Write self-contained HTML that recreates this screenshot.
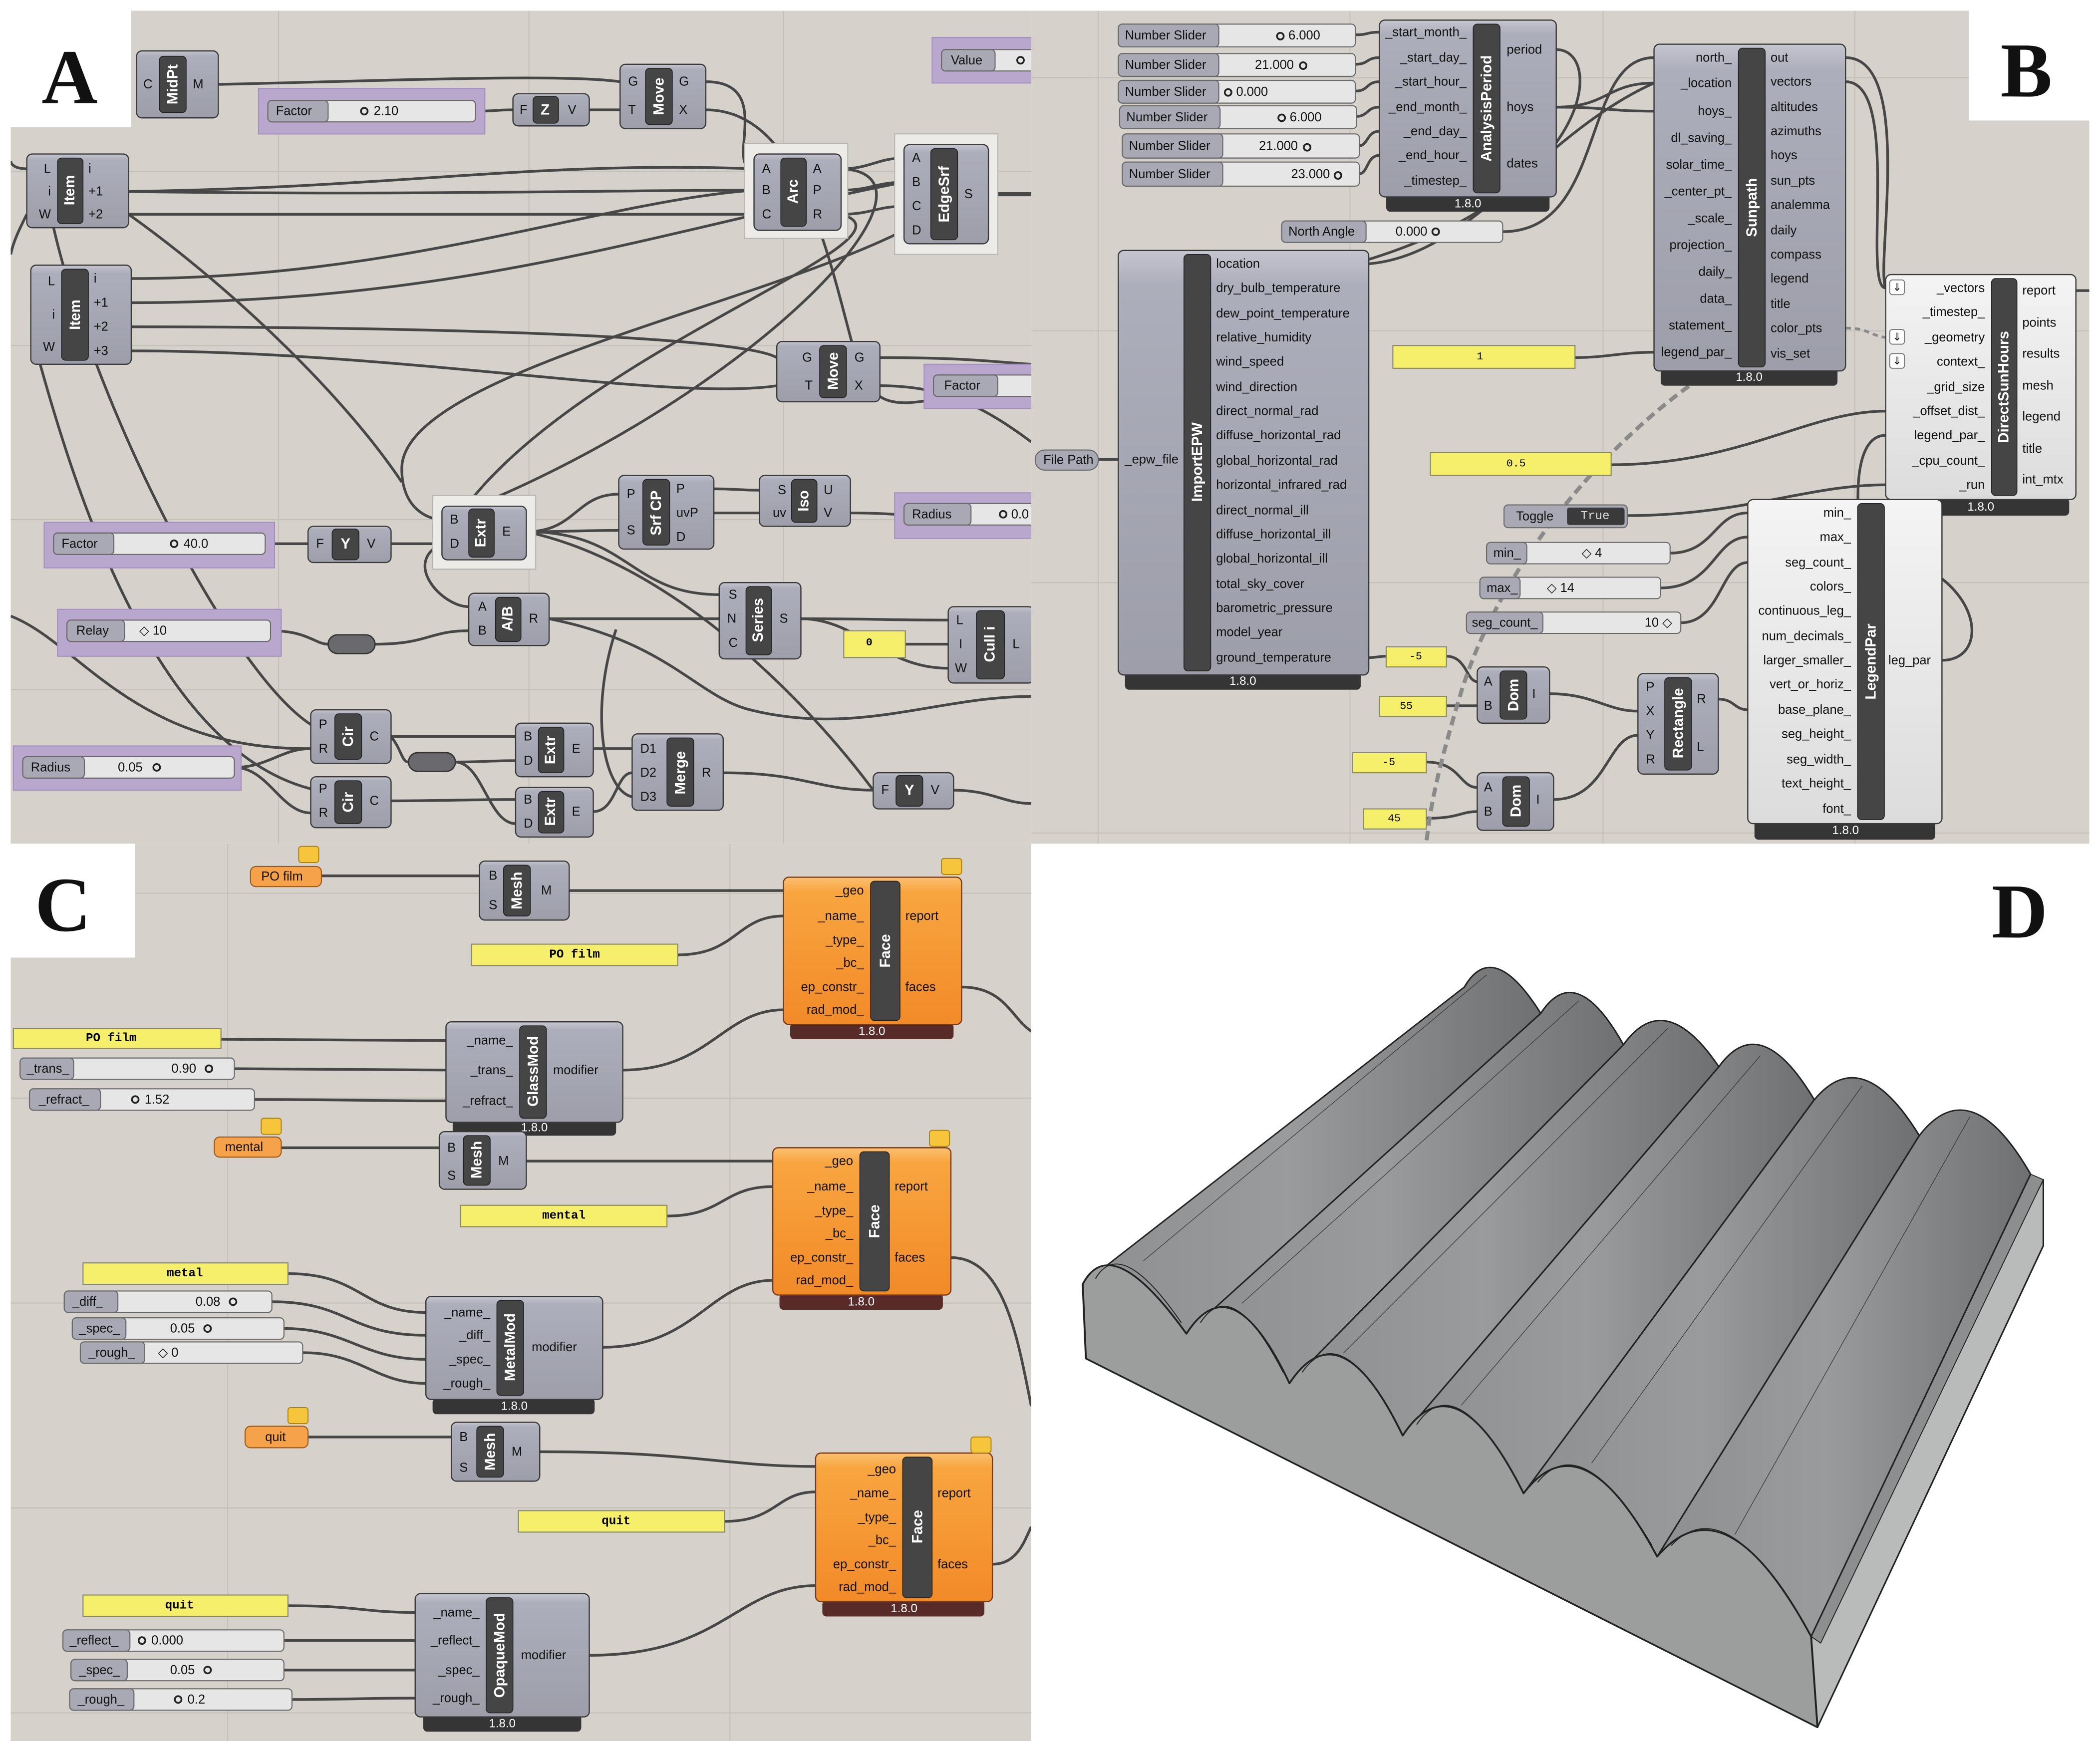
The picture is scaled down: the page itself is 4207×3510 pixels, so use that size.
<!DOCTYPE html>
<html><head><meta charset="utf-8"><style>
html,body{margin:0;padding:0;background:#fff;}
svg{display:block}
text{font-family:"Liberation Sans",sans-serif;}
.bg{fill:#d6d2cb}
.gl{stroke:#c4c0b9;stroke-width:0.8}
.w{fill:none;stroke:#474747;stroke-width:2}
.c{fill:url(#gc);stroke:#3a3a3a;stroke-width:0.9}
.cl{fill:url(#gw);stroke:#3a3a3a;stroke-width:0.9}
.co{fill:url(#go);stroke:#7a3a1a;stroke-width:0.9}
.s{fill:#454545;stroke:#222;stroke-width:0.6}
.n{fill:#fff;font-size:11px;font-weight:bold;text-anchor:middle;dominant-baseline:central}
.t{font-size:9.5px;fill:#111;dominant-baseline:central}
.e{text-anchor:end}
.f{fill:#353535}
.fo{fill:#582b28}
.ft{fill:#fff;font-size:9px;text-anchor:middle;dominant-baseline:central}
.pg{fill:#b9a7cd;stroke:#a58fc2;stroke-width:0.8}
.sl{fill:#e6e6e6;stroke:#6a6a6a;stroke-width:0.8}
.sb{fill:#a9a9b5;stroke:#6a6a6a;stroke-width:0.8}
.y{fill:#f5ef6b;stroke:#8a8a6a;stroke-width:0.8}
.or{fill:#f6a24a;stroke:#9a5a1a;stroke-width:0.8}
.tag{fill:#f6c53c;stroke:#a88010;stroke-width:0.7}
.m{font-family:"Liberation Mono",monospace;font-size:9px;font-weight:bold;text-anchor:middle;dominant-baseline:central}
.L{font-family:"Liberation Serif",serif;font-weight:bold;font-size:58px;fill:#111;text-anchor:middle}
.wg{fill:#ecebe7;stroke:#b8b6b0;stroke-width:0.8}
</style></head><body>
<svg width="4207" height="3510" viewBox="0 0 1568 1308.2" xmlns="http://www.w3.org/2000/svg">
<defs>
<linearGradient id="gc" x1="0" y1="0" x2="0" y2="1"><stop offset="0" stop-color="#c4c5cf"/><stop offset="0.08" stop-color="#adaebb"/><stop offset="1" stop-color="#9d9eaa"/></linearGradient>
<linearGradient id="gw" x1="0" y1="0" x2="0" y2="1"><stop offset="0" stop-color="#f4f4f4"/><stop offset="1" stop-color="#dcdcdc"/></linearGradient>
<linearGradient id="go" x1="0" y1="0" x2="0" y2="1"><stop offset="0" stop-color="#fcc070"/><stop offset="0.1" stop-color="#f8a540"/><stop offset="1" stop-color="#f28a28"/></linearGradient>
<linearGradient id="hg" x1="0" y1="0" x2="1" y2="0"><stop offset="0" stop-color="#8e8f91"/><stop offset="0.45" stop-color="#9a9b9d"/><stop offset="1" stop-color="#6f7072"/></linearGradient>
<clipPath id="cA"><rect x="8" y="8" width="762" height="622"/></clipPath>
<clipPath id="cB"><rect x="770" y="8" width="790" height="622"/></clipPath>
<clipPath id="cC"><rect x="8" y="630" width="762" height="670"/></clipPath>
</defs>
<rect width="1568" height="1309" fill="#fff"/>

<!-- ================= PANEL A ================= -->
<g clip-path="url(#cA)">
<rect class="bg" x="8" y="8" width="762" height="622"/>
<g class="gl"><line x1="208" y1="8" x2="208" y2="630"/><line x1="395" y1="8" x2="395" y2="630"/><line x1="585" y1="8" x2="585" y2="630"/><line x1="8" y1="128" x2="770" y2="128"/><line x1="8" y1="258" x2="770" y2="258"/><line x1="8" y1="388" x2="770" y2="388"/><line x1="8" y1="515" x2="770" y2="515"/></g>
<!-- wires -->
<g class="w">
<path d="M163,63 C300,60 420,55 463,61"/>
<path d="M355,83 C370,83 370,82 383,82"/>
<path d="M440,82 C450,82 452,82 463,82"/>
<path d="M527,61 C580,61 540,126 563,126"/>
<path d="M527,82 C600,82 620,200 640,270 C660,330 700,280 770,300"/>
<path d="M96,143 C300,140 400,120 563,126"/>
<path d="M96,143 C300,146 450,142 563,142"/>
<path d="M96,160 C300,160 450,160 563,160"/>
<path d="M98,208 C300,208 450,150 563,142"/>
<path d="M98,226 C350,226 500,170 675,136"/>
<path d="M98,244 C300,244 550,250 580,267"/>
<path d="M98,262 C300,262 500,300 580,288"/>
<path d="M628,126 C650,126 655,118 675,118"/>
<path d="M628,142 C650,142 655,136 675,136"/>
<path d="M628,160 C650,160 655,154 675,154"/>
<path d="M738,145 C750,145 760,145 770,145" style="stroke-width:3"/>
<path d="M628,126 C720,130 560,300 330,388"/>
<path d="M628,160 C700,180 400,270 330,406"/>
<path d="M675,172 C560,230 300,280 300,350 C300,380 320,388 330,388"/>
<path d="M96,160 C180,220 260,300 300,360"/>
<path d="M198,406 C215,406 215,406 230,406"/>
<path d="M292,406 C310,406 312,406 330,406"/>
<path d="M393,397 C430,397 430,369 462,369"/>
<path d="M393,397 C430,397 430,396 462,396"/>
<path d="M393,397 C470,397 470,444 537,444"/>
<path d="M393,397 C500,420 600,520 652,590"/>
<path d="M533,365 C550,365 550,366 567,366"/>
<path d="M533,383 C550,383 550,383 567,383"/>
<path d="M635,383 C690,383 700,390 770,392"/>
<path d="M657,267 C720,267 740,270 770,272"/>
<path d="M657,288 C700,288 730,300 770,330"/>
<path d="M202,471 C230,471 235,481 245,481"/>
<path d="M280,481 C320,481 320,471 350,471"/>
<path d="M330,406 C300,420 330,453 350,453"/>
<path d="M410,462 C470,462 480,462 537,462"/>
<path d="M598,462 C640,462 660,499 708,499"/>
<path d="M676,481 C690,481 695,481 708,481"/>
<path d="M598,462 C650,462 660,463 708,463"/>
<path d="M20,126 C10,126 8,122 8,120"/>
<path d="M20,160 C15,170 10,180 8,190"/>
<path d="M40,170 C70,300 170,500 232,541"/>
<path d="M30,272 C60,380 120,560 232,589"/>
<path d="M8,460 C60,480 100,560 232,559"/>
<path d="M175,573 C200,573 210,559 232,559"/>
<path d="M175,573 C200,573 210,607 232,607"/>
<path d="M292,550 C330,550 350,550 385,550"/>
<path d="M292,598 C330,598 350,597 385,597"/>
<path d="M292,550 C300,560 300,569 305,569"/>
<path d="M340,569 C360,569 365,568 385,568"/>
<path d="M340,569 C360,569 365,615 385,615"/>
<path d="M443,559 C460,559 460,559 472,559"/>
<path d="M443,606 C460,606 460,577 472,577"/>
<path d="M460,470 C440,530 450,590 472,595"/>
<path d="M540,577 C600,577 610,590 652,590"/>
<path d="M712,590 C740,590 750,600 770,600"/>
<path d="M410,462 C500,480 520,520 560,530 C640,550 700,520 770,520"/>
</g>
<!-- MidPt -->
<rect class="c" x="102" y="38" width="61" height="50" rx="4"/><rect class="s" x="119" y="42" width="20" height="42" rx="3"/>
<text class="n" transform="translate(129,63) rotate(-90)">MidPt</text>
<text class="t" x="107" y="63">C</text><text class="t" x="144" y="63">M</text>
<!-- Factor slider -->
<rect class="pg" x="193" y="66" width="169" height="34"/>
<rect class="sl" x="200" y="75" width="155" height="16" rx="3"/><rect class="sb" x="200" y="75" width="45" height="16" rx="3"/>
<text class="t" x="206" y="83">Factor</text><circle cx="272" cy="83" r="2.5" fill="none" stroke="#222" stroke-width="1.3"/><text class="t" x="279" y="83">2.10</text>
<!-- Z -->
<rect class="c" x="383" y="70" width="57" height="24" rx="4"/><rect class="s" x="398" y="72" width="19" height="20" rx="3"/>
<text class="n" x="407" y="82">Z</text><text class="t" x="388" y="82">F</text><text class="t" x="424" y="82">V</text>
<!-- Move -->
<rect class="c" x="463" y="48" width="64" height="48" rx="4"/><rect class="s" x="482" y="51" width="20" height="42" rx="3"/>
<text class="n" transform="translate(492,72) rotate(-90)">Move</text>
<text class="t" x="469" y="61">G</text><text class="t" x="469" y="82">T</text><text class="t" x="507" y="61">G</text><text class="t" x="507" y="82">X</text>
<!-- Value -->
<rect class="pg" x="696" y="28" width="80" height="34"/>
<rect class="sl" x="703" y="37" width="70" height="16" rx="3"/><rect class="sb" x="703" y="37" width="40" height="16" rx="3"/>
<text class="t" x="710" y="45">Value</text><circle cx="762" cy="45" r="2.5" fill="none" stroke="#222" stroke-width="1.3"/>
<!-- Item1 -->
<rect class="c" x="20" y="115" width="76" height="55" rx="4"/><rect class="s" x="43" y="118" width="19" height="49" rx="3"/>
<text class="n" transform="translate(52,142) rotate(-90)">Item</text>
<text class="t e" x="38" y="126">L</text><text class="t e" x="38" y="143">i</text><text class="t e" x="38" y="160">W</text>
<text class="t" x="66" y="126">i</text><text class="t" x="66" y="143">+1</text><text class="t" x="66" y="160">+2</text>
<!-- Arc -->
<rect class="wg" x="556" y="107" width="77" height="71"/>
<rect class="c" x="563" y="115" width="65" height="57" rx="4"/><rect class="s" x="583" y="118" width="19" height="51" rx="3"/>
<text class="n" transform="translate(592,143) rotate(-90)">Arc</text>
<text class="t" x="569" y="126">A</text><text class="t" x="569" y="142">B</text><text class="t" x="569" y="160">C</text>
<text class="t" x="607" y="126">A</text><text class="t" x="607" y="142">P</text><text class="t" x="607" y="160">R</text>
<!-- EdgeSrf -->
<rect class="wg" x="668" y="100" width="77" height="90"/>
<rect class="c" x="675" y="108" width="63" height="74" rx="4"/><rect class="s" x="695" y="111" width="20" height="68" rx="3"/>
<text class="n" transform="translate(705,145) rotate(-90)">EdgeSrf</text>
<text class="t" x="681" y="118">A</text><text class="t" x="681" y="136">B</text><text class="t" x="681" y="154">C</text><text class="t" x="681" y="172">D</text>
<text class="t" x="720" y="145">S</text>
<!-- Item2 -->
<rect class="c" x="23" y="198" width="75" height="74" rx="4"/><rect class="s" x="46" y="201" width="20" height="68" rx="3"/>
<text class="n" transform="translate(56,235) rotate(-90)">Item</text>
<text class="t e" x="41" y="210">L</text><text class="t e" x="41" y="235">i</text><text class="t e" x="41" y="259">W</text>
<text class="t" x="70" y="208">i</text><text class="t" x="70" y="226">+1</text><text class="t" x="70" y="244">+2</text><text class="t" x="70" y="262">+3</text>
<!-- Move2 -->
<rect class="c" x="580" y="255" width="77" height="45" rx="4"/><rect class="s" x="612" y="258" width="20" height="39" rx="3"/>
<text class="n" transform="translate(622,277) rotate(-90)">Move</text>
<text class="t" x="599" y="267">G</text><text class="t" x="601" y="288">T</text><text class="t" x="638" y="267">G</text><text class="t" x="638" y="288">X</text>
<!-- Factor2 -->
<rect class="pg" x="690" y="272" width="86" height="33"/>
<rect class="sl" x="697" y="280" width="76" height="16" rx="3"/><rect class="sb" x="697" y="280" width="48" height="16" rx="3"/>
<text class="t" x="705" y="288">Factor</text>
<!-- SrfCP -->
<rect class="c" x="462" y="355" width="71" height="55" rx="4"/><rect class="s" x="480" y="358" width="20" height="49" rx="3"/>
<text class="n" transform="translate(490,383) rotate(-90)">Srf CP</text>
<text class="t" x="468" y="369">P</text><text class="t" x="468" y="396">S</text>
<text class="t" x="505" y="365">P</text><text class="t" x="505" y="383">uvP</text><text class="t" x="505" y="401">D</text>
<!-- Iso -->
<rect class="c" x="567" y="355" width="68" height="38" rx="4"/><rect class="s" x="591" y="358" width="19" height="32" rx="3"/>
<text class="n" transform="translate(600,374) rotate(-90)">Iso</text>
<text class="t e" x="587" y="366">S</text><text class="t e" x="587" y="383">uv</text><text class="t" x="615" y="366">U</text><text class="t" x="615" y="383">V</text>
<!-- Radius -->
<rect class="pg" x="668" y="368" width="108" height="34"/>
<rect class="sl" x="675" y="376" width="98" height="16" rx="3"/><rect class="sb" x="675" y="376" width="50" height="16" rx="3"/>
<text class="t" x="681" y="384">Radius</text><circle cx="749" cy="384" r="2.5" fill="none" stroke="#222" stroke-width="1.3"/><text class="t" x="755" y="384">0.0</text>
<!-- Factor3 -->
<rect class="pg" x="33" y="390" width="172" height="34"/>
<rect class="sl" x="40" y="398" width="158" height="16" rx="3"/><rect class="sb" x="40" y="398" width="45" height="16" rx="3"/>
<text class="t" x="46" y="406">Factor</text><circle cx="130" cy="406" r="2.5" fill="none" stroke="#222" stroke-width="1.3"/><text class="t" x="137" y="406">40.0</text>
<!-- Y1 -->
<rect class="c" x="230" y="393" width="62" height="27" rx="4"/><rect class="s" x="248" y="395" width="20" height="23" rx="3"/>
<text class="n" x="258" y="406">Y</text><text class="t" x="236" y="406">F</text><text class="t" x="274" y="406">V</text>
<!-- Extr1 -->
<rect class="wg" x="323" y="370" width="77" height="55"/>
<rect class="c" x="330" y="378" width="63" height="40" rx="4"/><rect class="s" x="350" y="380" width="19" height="36" rx="3"/>
<text class="n" transform="translate(359,398) rotate(-90)">Extr</text>
<text class="t" x="336" y="388">B</text><text class="t" x="336" y="406">D</text><text class="t" x="375" y="397">E</text>
<!-- A/B -->
<rect class="c" x="350" y="443" width="60" height="39" rx="4"/><rect class="s" x="370" y="446" width="19" height="33" rx="3"/>
<text class="n" transform="translate(379,462) rotate(-90)">A/B</text>
<text class="t" x="357" y="453">A</text><text class="t" x="357" y="471">B</text><text class="t" x="395" y="462">R</text>
<!-- Series -->
<rect class="c" x="537" y="435" width="61" height="57" rx="4"/><rect class="s" x="557" y="438" width="19" height="51" rx="3"/>
<text class="n" transform="translate(566,463) rotate(-90)">Series</text>
<text class="t" x="544" y="444">S</text><text class="t" x="543" y="462">N</text><text class="t" x="544" y="480">C</text><text class="t" x="582" y="462">S</text>
<!-- Relay slider -->
<rect class="pg" x="43" y="455" width="167" height="35"/>
<rect class="sl" x="50" y="463" width="152" height="16" rx="3"/><rect class="sb" x="50" y="463" width="43" height="16" rx="3"/>
<text class="t" x="57" y="471">Relay</text><text class="t" x="104" y="471">◇ 10</text>
<rect x="245" y="474" width="35" height="14" rx="7" fill="#6a6a6e" stroke="#333"/>
<!-- panel 0 -->
<rect class="y" x="630" y="471" width="46" height="20"/><text class="m" x="649" y="480" style="font-size:8px">0</text>
<!-- Cull -->
<rect class="c" x="708" y="453" width="64" height="57" rx="4"/><rect class="s" x="729" y="456" width="21" height="51" rx="3"/>
<text class="n" transform="translate(739,481) rotate(-90)">Cull i</text>
<text class="t" x="714" y="463">L</text><text class="t" x="716" y="481">I</text><text class="t" x="713" y="499">W</text><text class="t" x="756" y="481">L</text>
<!-- Cir1/2 -->
<rect class="c" x="232" y="530" width="60" height="40" rx="4"/><rect class="s" x="250" y="533" width="20" height="34" rx="3"/>
<text class="n" transform="translate(260,550) rotate(-90)">Cir</text>
<text class="t" x="238" y="541">P</text><text class="t" x="238" y="559">R</text><text class="t" x="276" y="550">C</text>
<rect class="c" x="232" y="580" width="60" height="38" rx="4"/><rect class="s" x="250" y="583" width="20" height="32" rx="3"/>
<text class="n" transform="translate(260,599) rotate(-90)">Cir</text>
<text class="t" x="238" y="589">P</text><text class="t" x="238" y="607">R</text><text class="t" x="276" y="598">C</text>
<!-- Radius2 -->
<rect class="pg" x="10" y="557" width="170" height="33"/>
<rect class="sl" x="17" y="565" width="158" height="16" rx="3"/><rect class="sb" x="17" y="565" width="46" height="16" rx="3"/>
<text class="t" x="23" y="573">Radius</text><text class="t" x="88" y="573">0.05</text><circle cx="117" cy="573" r="2.5" fill="none" stroke="#222" stroke-width="1.3"/>
<rect x="305" y="562" width="35" height="14" rx="7" fill="#6a6a6e" stroke="#333"/>
<!-- Extr2/3 -->
<rect class="c" x="385" y="540" width="58" height="40" rx="4"/><rect class="s" x="402" y="543" width="19" height="34" rx="3"/>
<text class="n" transform="translate(411,560) rotate(-90)">Extr</text>
<text class="t" x="391" y="550">B</text><text class="t" x="391" y="568">D</text><text class="t" x="427" y="559">E</text>
<rect class="c" x="385" y="588" width="58" height="37" rx="4"/><rect class="s" x="402" y="591" width="19" height="31" rx="3"/>
<text class="n" transform="translate(411,606) rotate(-90)">Extr</text>
<text class="t" x="391" y="597">B</text><text class="t" x="391" y="615">D</text><text class="t" x="427" y="606">E</text>
<!-- Merge -->
<rect class="c" x="472" y="548" width="68" height="57" rx="4"/><rect class="s" x="498" y="551" width="20" height="51" rx="3"/>
<text class="n" transform="translate(508,577) rotate(-90)">Merge</text>
<text class="t" x="478" y="559">D1</text><text class="t" x="478" y="577">D2</text><text class="t" x="478" y="595">D3</text><text class="t" x="524" y="577">R</text>
<!-- Y2 -->
<rect class="c" x="652" y="577" width="60" height="27" rx="4"/><rect class="s" x="669" y="579" width="20" height="23" rx="3"/>
<text class="n" x="679" y="590">Y</text><text class="t" x="658" y="590">F</text><text class="t" x="695" y="590">V</text>
</g>
<rect x="8" y="8" width="90" height="87" fill="#fff"/>
<text class="L" x="52" y="77">A</text>

<!-- ================= PANEL B ================= -->
<g clip-path="url(#cB)">
<rect class="bg" x="770" y="8" width="790" height="622"/>
<g class="gl"><line x1="820" y1="8" x2="820" y2="630"/><line x1="1008" y1="8" x2="1008" y2="630"/><line x1="1197" y1="8" x2="1197" y2="630"/><line x1="1385" y1="8" x2="1385" y2="630"/><line x1="770" y1="58" x2="1560" y2="58"/><line x1="770" y1="247" x2="1560" y2="247"/><line x1="770" y1="435" x2="1560" y2="435"/><line x1="770" y1="622" x2="1560" y2="622"/></g>
<g class="w">
<path d="M1012,26 C1022,26 1020,24 1030,24"/>
<path d="M1012,48 C1022,48 1020,43 1030,43"/>
<path d="M1012,68 C1022,68 1020,61 1030,61"/>
<path d="M1012,87 C1022,87 1020,80 1030,80"/>
<path d="M1014,109 C1022,109 1020,98 1030,98"/>
<path d="M1014,130 C1022,130 1020,116 1030,116"/>
<path d="M1162,80 C1200,80 1200,83 1235,83"/>
<path d="M1162,80 C1200,80 1200,62 1235,62"/>
<path d="M1162,37 C1200,37 1190,150 1000,200"/>
<path d="M1122,173 C1200,173 1180,43 1235,43"/>
<path d="M1022,197 C1100,190 1150,100 1235,62"/>
<path d="M1176,267 C1200,267 1210,263 1235,263"/>
<path d="M1378,61 C1420,61 1390,215 1408,215"/>
<path d="M1378,43 C1430,43 1400,200 1408,215"/>
<path d="M1450,493 C1490,493 1480,420 1390,410 C1380,330 1400,325 1408,325"/>
<path d="M1215,385 C1300,385 1350,362 1408,362"/>
<path d="M1203,347 C1300,347 1350,307 1408,307"/>
<path d="M1247,413 C1280,413 1280,383 1305,383"/>
<path d="M1240,439 C1280,439 1280,401 1305,401"/>
<path d="M1255,465 C1285,465 1285,420 1305,420"/>
<path d="M1080,490 C1095,490 1095,509 1103,509"/>
<path d="M1080,527 C1095,527 1095,527 1103,527"/>
<path d="M1065,569 C1090,569 1090,588 1103,588"/>
<path d="M1065,611 C1090,611 1090,606 1103,606"/>
<path d="M1157,518 C1190,518 1200,531 1223,531"/>
<path d="M1160,597 C1200,597 1200,549 1223,549"/>
<path d="M1283,522 C1295,522 1295,530 1305,530"/>
<path d="M1022,491 C1028,491 1030,490 1035,490"/>
<path d="M820,343 C828,343 830,343 835,343"/>
<path d="M1550,217 C1560,217 1560,217 1562,217"/>
</g>
<path d="M1270,282 C1200,330 1120,420 1090,520 C1075,570 1068,600 1065,630" fill="none" stroke="#8a8a8a" stroke-width="3" stroke-dasharray="7,4"/>
<path d="M1378,245 C1395,245 1395,250 1408,252" fill="none" stroke="#8a8a8a" stroke-width="2" stroke-dasharray="4,3"/>
<!-- sliders -->
<g>
<rect class="sl" x="835" y="18" width="177" height="17" rx="3"/><rect class="sb" x="835" y="18" width="75" height="17" rx="3"/><text class="t" x="840" y="26.5">Number Slider</text><circle cx="956" cy="27" r="2.5" fill="none" stroke="#222" stroke-width="1.3"/><text class="t" x="962" y="26.5">6.000</text>
<rect class="sl" x="835" y="40" width="177" height="17" rx="3"/><rect class="sb" x="835" y="40" width="75" height="17" rx="3"/><text class="t" x="840" y="48.5">Number Slider</text><text class="t" x="937" y="48.5">21.000</text><circle cx="973" cy="49" r="2.5" fill="none" stroke="#222" stroke-width="1.3"/>
<rect class="sl" x="835" y="60" width="177" height="17" rx="3"/><rect class="sb" x="835" y="60" width="75" height="17" rx="3"/><text class="t" x="840" y="68.5">Number Slider</text><circle cx="917" cy="69" r="2.5" fill="none" stroke="#222" stroke-width="1.3"/><text class="t" x="923" y="68.5">0.000</text>
<rect class="sl" x="836" y="79" width="177" height="17" rx="3"/><rect class="sb" x="836" y="79" width="75" height="17" rx="3"/><text class="t" x="841" y="87.5">Number Slider</text><circle cx="957" cy="88" r="2.5" fill="none" stroke="#222" stroke-width="1.3"/><text class="t" x="963" y="87.5">6.000</text>
<rect class="sl" x="838" y="100" width="177" height="18" rx="3"/><rect class="sb" x="838" y="100" width="75" height="18" rx="3"/><text class="t" x="843" y="109">Number Slider</text><text class="t" x="940" y="109">21.000</text><circle cx="976" cy="110" r="2.5" fill="none" stroke="#222" stroke-width="1.3"/>
<rect class="sl" x="838" y="121" width="177" height="18" rx="3"/><rect class="sb" x="838" y="121" width="75" height="18" rx="3"/><text class="t" x="843" y="130">Number Slider</text><text class="t" x="964" y="130">23.000</text><circle cx="999" cy="131" r="2.5" fill="none" stroke="#222" stroke-width="1.3"/>
</g>
<!-- AnalysisPeriod -->
<rect class="f" x="1035" y="145" width="122" height="13" rx="3"/><text class="ft" x="1096" y="152">1.8.0</text>
<rect class="c" x="1030" y="15" width="132" height="132" rx="4"/><rect class="s" x="1100" y="18" width="20" height="126" rx="3"/>
<text class="n" transform="translate(1110,81) rotate(-90)">AnalysisPeriod</text>
<g class="t e"><text x="1095" y="24">_start_month_</text><text x="1095" y="43">_start_day_</text><text x="1095" y="61">_start_hour_</text><text x="1095" y="80">_end_month_</text><text x="1095" y="98">_end_day_</text><text x="1095" y="116">_end_hour_</text><text x="1095" y="135">_timestep_</text></g>
<text class="t" x="1125" y="37">period</text><text class="t" x="1125" y="80">hoys</text><text class="t" x="1125" y="122">dates</text>
<!-- North Angle -->
<rect class="sl" x="957" y="165" width="165" height="16" rx="3"/><rect class="sb" x="957" y="165" width="63" height="16" rx="3"/>
<text class="t" x="962" y="173">North Angle</text><text class="t" x="1042" y="173">0.000</text><circle cx="1072" cy="173" r="2.5" fill="none" stroke="#222" stroke-width="1.3"/>
<!-- ImportEPW -->
<rect class="f" x="840" y="502" width="176" height="13" rx="3"/><text class="ft" x="928" y="508.5">1.8.0</text>
<rect class="c" x="835" y="187" width="187" height="317" rx="4"/><rect class="s" x="884" y="190" width="20" height="311" rx="3"/>
<text class="n" transform="translate(894,345) rotate(-90)">ImportEPW</text>
<text class="t e" x="880" y="343">_epw_file</text>
<g class="t"><text x="908" y="197">location</text><text x="908" y="215">dry_bulb_temperature</text><text x="908" y="234">dew_point_temperature</text><text x="908" y="252">relative_humidity</text><text x="908" y="270">wind_speed</text><text x="908" y="289">wind_direction</text><text x="908" y="307">direct_normal_rad</text><text x="908" y="325">diffuse_horizontal_rad</text><text x="908" y="344">global_horizontal_rad</text><text x="908" y="362">horizontal_infrared_rad</text><text x="908" y="381">direct_normal_ill</text><text x="908" y="399">diffuse_horizontal_ill</text><text x="908" y="417">global_horizontal_ill</text><text x="908" y="436">total_sky_cover</text><text x="908" y="454">barometric_pressure</text><text x="908" y="472">model_year</text><text x="908" y="491">ground_temperature</text></g>
<!-- File Path -->
<rect class="sb" x="773" y="336" width="47" height="15" rx="7"/><text class="t" x="779" y="343.5">File Path</text>
<!-- Sunpath -->
<rect class="f" x="1240" y="275" width="132" height="13" rx="3"/><text class="ft" x="1306" y="281.5">1.8.0</text>
<rect class="c" x="1235" y="33" width="143" height="244" rx="4"/><rect class="s" x="1298" y="36" width="20" height="238" rx="3"/>
<text class="n" transform="translate(1308,155) rotate(-90)">Sunpath</text>
<g class="t e"><text x="1293" y="43">north_</text><text x="1293" y="62">_location</text><text x="1293" y="83">hoys_</text><text x="1293" y="103">dl_saving_</text><text x="1293" y="123">solar_time_</text><text x="1293" y="143">_center_pt_</text><text x="1293" y="163">_scale_</text><text x="1293" y="183">projection_</text><text x="1293" y="203">daily_</text><text x="1293" y="223">data_</text><text x="1293" y="243">statement_</text><text x="1293" y="263">legend_par_</text></g>
<g class="t"><text x="1322" y="43">out</text><text x="1322" y="61">vectors</text><text x="1322" y="80">altitudes</text><text x="1322" y="98">azimuths</text><text x="1322" y="116">hoys</text><text x="1322" y="135">sun_pts</text><text x="1322" y="153">analemma</text><text x="1322" y="172">daily</text><text x="1322" y="190">compass</text><text x="1322" y="208">legend</text><text x="1322" y="227">title</text><text x="1322" y="245">color_pts</text><text x="1322" y="264">vis_set</text></g>
<!-- panels -->
<rect class="y" x="1040" y="258" width="136" height="17"/><text class="m" x="1105" y="266.5" style="font-weight:normal;font-size:8px">1</text>
<rect class="y" x="1068" y="338" width="135" height="17"/><text class="m" x="1132" y="346.5" style="font-weight:normal;font-size:8px">0.5</text>
<!-- DirectSunHours -->
<rect class="f" x="1413" y="372" width="132" height="13" rx="3"/><text class="ft" x="1479" y="378.5">1.8.0</text>
<rect class="cl" x="1408" y="205" width="142" height="168" rx="4"/><rect class="s" x="1487" y="208" width="19" height="162" rx="3"/>
<text class="n" transform="translate(1496,289) rotate(-90)">DirectSunHours</text>
<g class="t e"><text x="1482" y="215">_vectors</text><text x="1482" y="233">_timestep_</text><text x="1482" y="252">_geometry</text><text x="1482" y="270">context_</text><text x="1482" y="289">_grid_size</text><text x="1482" y="307">_offset_dist_</text><text x="1482" y="325">legend_par_</text><text x="1482" y="344">_cpu_count_</text><text x="1482" y="362">_run</text></g>
<g class="t"><text x="1510" y="217">report</text><text x="1510" y="241">points</text><text x="1510" y="264">results</text><text x="1510" y="288">mesh</text><text x="1510" y="311">legend</text><text x="1510" y="335">title</text><text x="1510" y="358">int_mtx</text></g>
<g fill="#fff" stroke="#777" stroke-width="0.7"><rect x="1411" y="209" width="11" height="11" rx="2"/><rect x="1411" y="246" width="11" height="11" rx="2"/><rect x="1411" y="264" width="11" height="11" rx="2"/></g>
<g class="t" style="font-size:8px;text-anchor:middle"><text x="1416.5" y="214.5">⇓</text><text x="1416.5" y="251.5">⇓</text><text x="1416.5" y="269.5">⇓</text></g>
<!-- Toggle -->
<rect class="sb" x="1123" y="377" width="92" height="17" rx="3"/><text class="t" x="1132" y="385.5">Toggle</text>
<rect x="1170" y="379" width="43" height="13" rx="2" fill="#3a3a3a"/><text class="m" x="1191" y="385.5" style="fill:#ddd;font-weight:normal">True</text>
<!-- min/max/seg -->
<rect class="sl" x="1110" y="405" width="137" height="16" rx="3"/><rect class="sb" x="1110" y="405" width="30" height="16" rx="3"/><text class="t" x="1115" y="413">min_</text><text class="t" x="1181" y="413">◇ 4</text>
<rect class="sl" x="1105" y="431" width="135" height="16" rx="3"/><rect class="sb" x="1105" y="431" width="30" height="16" rx="3"/><text class="t" x="1110" y="439">max_</text><text class="t" x="1155" y="439">◇ 14</text>
<rect class="sl" x="1095" y="457" width="160" height="16" rx="3"/><rect class="sb" x="1095" y="457" width="57" height="16" rx="3"/><text class="t" x="1099" y="465">seg_count_</text><text class="t" x="1228" y="465">10 ◇</text>
<!-- LegendPar -->
<rect class="f" x="1310" y="613" width="135" height="14" rx="3"/><text class="ft" x="1378" y="620">1.8.0</text>
<rect class="cl" x="1305" y="373" width="145" height="242" rx="4"/><rect class="s" x="1387" y="376" width="20" height="236" rx="3"/>
<text class="n" transform="translate(1397,494) rotate(-90)">LegendPar</text>
<g class="t e"><text x="1382" y="383">min_</text><text x="1382" y="401">max_</text><text x="1382" y="420">seg_count_</text><text x="1382" y="438">colors_</text><text x="1382" y="456">continuous_leg_</text><text x="1382" y="475">num_decimals_</text><text x="1382" y="493">larger_smaller_</text><text x="1382" y="511">vert_or_horiz_</text><text x="1382" y="530">base_plane_</text><text x="1382" y="548">seg_height_</text><text x="1382" y="567">seg_width_</text><text x="1382" y="585">text_height_</text><text x="1382" y="604">font_</text></g>
<text class="t" x="1410" y="493">leg_par</text>
<!-- num panels -->
<rect class="y" x="1035" y="483" width="45" height="15"/><text class="m" x="1057" y="490.5" style="font-weight:normal;font-size:8px">-5</text>
<rect class="y" x="1030" y="520" width="50" height="15"/><text class="m" x="1050" y="527.5" style="font-weight:normal;font-size:8px">55</text>
<rect class="y" x="1010" y="562" width="55" height="15"/><text class="m" x="1037" y="569.5" style="font-weight:normal;font-size:8px">-5</text>
<rect class="y" x="1018" y="604" width="47" height="15"/><text class="m" x="1041" y="611.5" style="font-weight:normal;font-size:8px">45</text>
<!-- Dom -->
<rect class="c" x="1103" y="498" width="54" height="42" rx="4"/><rect class="s" x="1120" y="501" width="20" height="36" rx="3"/>
<text class="n" transform="translate(1130,519) rotate(-90)">Dom</text>
<text class="t" x="1108" y="509">A</text><text class="t" x="1108" y="527">B</text><text class="t" x="1144" y="518">I</text>
<rect class="c" x="1103" y="577" width="57" height="43" rx="4"/><rect class="s" x="1122" y="580" width="20" height="37" rx="3"/>
<text class="n" transform="translate(1132,598) rotate(-90)">Dom</text>
<text class="t" x="1108" y="588">A</text><text class="t" x="1108" y="606">B</text><text class="t" x="1147" y="597">I</text>
<!-- Rectangle -->
<rect class="c" x="1223" y="503" width="60" height="75" rx="4"/><rect class="s" x="1243" y="506" width="20" height="69" rx="3"/>
<text class="n" transform="translate(1253,540) rotate(-90)">Rectangle</text>
<text class="t" x="1229" y="513">P</text><text class="t" x="1229" y="531">X</text><text class="t" x="1229" y="549">Y</text><text class="t" x="1229" y="567">R</text>
<text class="t" x="1267" y="522">R</text><text class="t" x="1267" y="558">L</text>
</g>
<rect x="1470" y="8" width="92" height="82" fill="#fff"/>
<text class="L" x="1513" y="72">B</text>

<!-- ================= PANEL C ================= -->
<g clip-path="url(#cC)">
<rect class="bg" x="8" y="630" width="762" height="670"/>
<g class="gl"><line x1="8" y1="667" x2="770" y2="667"/><line x1="8" y1="820" x2="770" y2="820"/><line x1="8" y1="973" x2="770" y2="973"/><line x1="8" y1="1126" x2="770" y2="1126"/><line x1="8" y1="1279" x2="770" y2="1279"/><line x1="170" y1="630" x2="170" y2="1300"/><line x1="545" y1="630" x2="545" y2="1300"/></g>
<g class="w">
<path d="M240,654 C300,654 300,654 358,654"/>
<path d="M425,665 C500,665 510,665 585,665"/>
<path d="M506,713 C550,713 550,684 585,684"/>
<path d="M465,799 C530,799 540,754 585,754"/>
<path d="M165,776 C250,776 260,777 333,777"/>
<path d="M175,798 C250,798 260,799 333,799"/>
<path d="M190,821 C260,821 270,822 333,822"/>
<path d="M718,737 C750,737 755,760 770,770"/>
<path d="M210,857 C270,857 270,857 328,857"/>
<path d="M393,867 C500,867 510,867 577,867"/>
<path d="M498,908 C540,908 540,886 577,886"/>
<path d="M450,1006 C520,1006 530,956 577,956"/>
<path d="M215,951 C270,951 270,980 318,980"/>
<path d="M203,972 C260,972 260,997 318,997"/>
<path d="M212,992 C260,992 270,1015 318,1015"/>
<path d="M226,1010 C270,1010 280,1033 318,1033"/>
<path d="M710,939 C750,939 760,1000 770,1050"/>
<path d="M230,1073 C290,1073 290,1073 337,1073"/>
<path d="M403,1084 C520,1084 540,1095 609,1095"/>
<path d="M541,1136 C580,1136 580,1114 609,1114"/>
<path d="M440,1236 C540,1236 550,1184 609,1184"/>
<path d="M215,1199 C270,1199 270,1204 310,1204"/>
<path d="M212,1225 C260,1225 270,1225 310,1225"/>
<path d="M212,1247 C260,1247 270,1247 310,1247"/>
<path d="M218,1269 C260,1269 270,1268 310,1268"/>
<path d="M741,1168 C760,1168 765,1150 770,1140"/>
</g>
<!-- PO film orange -->
<rect class="or" x="187" y="647" width="53" height="15" rx="4"/><text class="t" x="195" y="654.5">PO film</text>
<rect class="tag" x="223" y="632" width="15" height="12" rx="2"/>
<!-- Mesh1 -->
<rect class="c" x="358" y="643" width="67" height="44" rx="4"/><rect class="s" x="376" y="646" width="20" height="38" rx="3"/>
<text class="n" transform="translate(386,665) rotate(-90)">Mesh</text>
<text class="t" x="365" y="654">B</text><text class="t" x="365" y="676">S</text><text class="t" x="404" y="665">M</text>
<!-- Face1 -->
<rect class="fo" x="590" y="764" width="122" height="12" rx="3"/><text class="ft" x="651" y="770">1.8.0</text>
<rect class="co" x="585" y="655" width="133" height="110" rx="4"/><rect class="s" x="650" y="658" width="22" height="104" rx="3"/>
<text class="n" transform="translate(661,710) rotate(-90)">Face</text>
<g class="t e"><text x="645" y="665">_geo</text><text x="645" y="684">_name_</text><text x="645" y="702">_type_</text><text x="645" y="719">_bc_</text><text x="645" y="737">ep_constr_</text><text x="645" y="754">rad_mod_</text></g>
<text class="t" x="676" y="684">report</text><text class="t" x="676" y="737">faces</text>
<rect class="tag" x="703" y="641" width="15" height="12" rx="2"/>
<!-- PO film panels -->
<rect class="y" x="352" y="705" width="154" height="16"/><text class="m" x="429" y="713">PO film</text>
<rect class="y" x="10" y="768" width="155" height="15"/><text class="m" x="83" y="775.5">PO film</text>
<!-- trans/refract -->
<rect class="sl" x="15" y="790" width="160" height="16" rx="3"/><rect class="sb" x="15" y="790" width="40" height="16" rx="3"/><text class="t" x="20" y="798">_trans_</text><text class="t" x="128" y="798">0.90</text><circle cx="156" cy="798" r="2.5" fill="none" stroke="#222" stroke-width="1.3"/>
<rect class="sl" x="22" y="813" width="168" height="16" rx="3"/><rect class="sb" x="22" y="813" width="53" height="16" rx="3"/><text class="t" x="29" y="821">_refract_</text><circle cx="101" cy="821" r="2.5" fill="none" stroke="#222" stroke-width="1.3"/><text class="t" x="108" y="821">1.52</text>
<!-- GlassMod -->
<rect class="f" x="338" y="836" width="122" height="12" rx="3"/><text class="ft" x="399" y="842">1.8.0</text>
<rect class="c" x="333" y="763" width="132" height="75" rx="4"/><rect class="s" x="388" y="766" width="20" height="69" rx="3"/>
<text class="n" transform="translate(398,800) rotate(-90)">GlassMod</text>
<g class="t e"><text x="383" y="777">_name_</text><text x="383" y="799">_trans_</text><text x="383" y="822">_refract_</text></g>
<text class="t" x="413" y="799">modifier</text>
<!-- mental -->
<rect class="or" x="160" y="849" width="50" height="15" rx="4"/><text class="t" x="168" y="856.5">mental</text>
<rect class="tag" x="195" y="835" width="15" height="12" rx="2"/>
<rect class="c" x="328" y="845" width="65" height="43" rx="4"/><rect class="s" x="346" y="848" width="20" height="37" rx="3"/>
<text class="n" transform="translate(356,866) rotate(-90)">Mesh</text>
<text class="t" x="334" y="857">B</text><text class="t" x="334" y="878">S</text><text class="t" x="372" y="867">M</text>
<!-- Face2 -->
<rect class="fo" x="582" y="966" width="122" height="12" rx="3"/><text class="ft" x="643" y="972">1.8.0</text>
<rect class="co" x="577" y="857" width="133" height="110" rx="4"/><rect class="s" x="642" y="860" width="22" height="104" rx="3"/>
<text class="n" transform="translate(653,912) rotate(-90)">Face</text>
<g class="t e"><text x="637" y="867">_geo</text><text x="637" y="886">_name_</text><text x="637" y="904">_type_</text><text x="637" y="921">_bc_</text><text x="637" y="939">ep_constr_</text><text x="637" y="956">rad_mod_</text></g>
<text class="t" x="668" y="886">report</text><text class="t" x="668" y="939">faces</text>
<rect class="tag" x="694" y="844" width="15" height="12" rx="2"/>
<rect class="y" x="344" y="900" width="154" height="16"/><text class="m" x="421" y="908">mental</text>
<!-- metal -->
<rect class="y" x="62" y="943" width="153" height="16"/><text class="m" x="138" y="951">metal</text>
<rect class="sl" x="48" y="964" width="155" height="16" rx="3"/><rect class="sb" x="48" y="964" width="40" height="16" rx="3"/><text class="t" x="54" y="972">_diff_</text><text class="t" x="146" y="972">0.08</text><circle cx="174" cy="972" r="2.5" fill="none" stroke="#222" stroke-width="1.3"/>
<rect class="sl" x="54" y="984" width="158" height="16" rx="3"/><rect class="sb" x="54" y="984" width="40" height="16" rx="3"/><text class="t" x="59" y="992">_spec_</text><text class="t" x="127" y="992">0.05</text><circle cx="155" cy="992" r="2.5" fill="none" stroke="#222" stroke-width="1.3"/>
<rect class="sl" x="60" y="1002" width="166" height="16" rx="3"/><rect class="sb" x="60" y="1002" width="48" height="16" rx="3"/><text class="t" x="66" y="1010">_rough_</text><text class="t" x="118" y="1010">◇ 0</text>
<!-- MetalMod -->
<rect class="f" x="323" y="1044" width="121" height="12" rx="3"/><text class="ft" x="384" y="1050">1.8.0</text>
<rect class="c" x="318" y="968" width="132" height="77" rx="4"/><rect class="s" x="371" y="971" width="20" height="71" rx="3"/>
<text class="n" transform="translate(381,1006) rotate(-90)">MetalMod</text>
<g class="t e"><text x="366" y="980">_name_</text><text x="366" y="997">_diff_</text><text x="366" y="1015">_spec_</text><text x="366" y="1033">_rough_</text></g>
<text class="t" x="397" y="1006">modifier</text>
<!-- quit -->
<rect class="or" x="183" y="1065" width="47" height="16" rx="4"/><text class="t" x="198" y="1073">quit</text>
<rect class="tag" x="215" y="1051" width="15" height="12" rx="2"/>
<rect class="c" x="337" y="1062" width="66" height="44" rx="4"/><rect class="s" x="356" y="1065" width="20" height="38" rx="3"/>
<text class="n" transform="translate(366,1084) rotate(-90)">Mesh</text>
<text class="t" x="343" y="1073">B</text><text class="t" x="343" y="1096">S</text><text class="t" x="382" y="1084">M</text>
<!-- Face3 -->
<rect class="fo" x="614" y="1195" width="121" height="12" rx="3"/><text class="ft" x="675" y="1201">1.8.0</text>
<rect class="co" x="609" y="1085" width="132" height="111" rx="4"/><rect class="s" x="674" y="1088" width="22" height="105" rx="3"/>
<text class="n" transform="translate(685,1140) rotate(-90)">Face</text>
<g class="t e"><text x="669" y="1097">_geo</text><text x="669" y="1115">_name_</text><text x="669" y="1133">_type_</text><text x="669" y="1150">_bc_</text><text x="669" y="1168">ep_constr_</text><text x="669" y="1185">rad_mod_</text></g>
<text class="t" x="700" y="1115">report</text><text class="t" x="700" y="1168">faces</text>
<rect class="tag" x="725" y="1073" width="15" height="12" rx="2"/>
<rect class="y" x="387" y="1128" width="154" height="16"/><text class="m" x="460" y="1136">quit</text>
<rect class="y" x="62" y="1191" width="153" height="16"/><text class="m" x="134" y="1199">quit</text>
<rect class="sl" x="47" y="1217" width="165" height="16" rx="3"/><rect class="sb" x="47" y="1217" width="50" height="16" rx="3"/><text class="t" x="52" y="1225">_reflect_</text><circle cx="106" cy="1225" r="2.5" fill="none" stroke="#222" stroke-width="1.3"/><text class="t" x="113" y="1225">0.000</text>
<rect class="sl" x="53" y="1239" width="159" height="16" rx="3"/><rect class="sb" x="53" y="1239" width="42" height="16" rx="3"/><text class="t" x="59" y="1247">_spec_</text><text class="t" x="127" y="1247">0.05</text><circle cx="155" cy="1247" r="2.5" fill="none" stroke="#222" stroke-width="1.3"/>
<rect class="sl" x="52" y="1261" width="166" height="16" rx="3"/><rect class="sb" x="52" y="1261" width="48" height="16" rx="3"/><text class="t" x="58" y="1269">_rough_</text><circle cx="133" cy="1269" r="2.5" fill="none" stroke="#222" stroke-width="1.3"/><text class="t" x="140" y="1269">0.2</text>
<!-- OpaqueMod -->
<rect class="f" x="316" y="1280" width="118" height="13" rx="3"/><text class="ft" x="375" y="1287">1.8.0</text>
<rect class="c" x="310" y="1190" width="130" height="92" rx="4"/><rect class="s" x="363" y="1193" width="20" height="86" rx="3"/>
<text class="n" transform="translate(373,1236) rotate(-90)">OpaqueMod</text>
<g class="t e"><text x="358" y="1204">_name_</text><text x="358" y="1225">_reflect_</text><text x="358" y="1247">_spec_</text><text x="358" y="1268">_rough_</text></g>
<text class="t" x="389" y="1236">modifier</text>
</g>
<rect x="8" y="630" width="93" height="85" fill="#fff"/>
<text class="L" x="47" y="695">C</text>

<!-- ================= PANEL D ================= -->
<text class="L" x="1508" y="700">D</text>
<g transform="translate(801.3,708.2) scale(0.475,0.411)" stroke="#222" stroke-linejoin="round">
<!-- right face -->
<polygon points="1160,1250 1525,420 1525,540 1170,1415" fill="#b9baba" stroke-width="2.5"/>
<!-- flat top strip near right -->
<polygon points="1160,1250 1505,410 1525,420 1175,1262" fill="#8d8e90" stroke-width="1.5"/>
<!-- humps (back to front) -->
<path d="M15,610 Q60,510 178,700 L735,118 Q660,-20 615,70 Z" fill="url(#hg)" stroke-width="2.5"/>
<path d="M178,700 Q250,570 340,790 L865,175 Q790,20 735,118 Z" fill="url(#hg)" stroke-width="2.5"/>
<path d="M340,790 Q420,650 518,885 L1015,215 Q930,70 865,175 Z" fill="url(#hg)" stroke-width="2.5"/>
<path d="M518,885 Q600,740 708,990 L1165,275 Q1080,110 1015,215 Z" fill="url(#hg)" stroke-width="2.5"/>
<path d="M708,990 Q800,850 918,1105 L1330,340 Q1240,170 1165,275 Z" fill="url(#hg)" stroke-width="2.5"/>
<path d="M918,1105 Q1025,960 1160,1250 L1505,410 Q1410,220 1330,340 Z" fill="url(#hg)" stroke-width="2.5"/>
<!-- ridge lines -->
<g stroke="#333" stroke-width="1" fill="none">
<line x1="110" y1="568" x2="650" y2="48"/><line x1="265" y1="645" x2="795" y2="95"/><line x1="425" y1="735" x2="935" y2="145"/><line x1="610" y1="830" x2="1080" y2="195"/><line x1="815" y1="935" x2="1240" y2="250"/><line x1="1040" y1="1065" x2="1410" y2="305"/>
</g>
<!-- front face -->
<path d="M15,610 Q60,510 178,700 Q250,570 340,790 Q420,650 518,885 Q600,740 708,990 Q800,850 918,1105 Q1025,960 1160,1250 L1170,1415 L20,745 Z" fill="#9c9d9d" stroke-width="3"/>
<!-- front arc edges -->
<g fill="none" stroke="#222" stroke-width="1.6">
<path d="M35,600 Q75,520 170,680"/><path d="M200,680 Q250,590 330,770"/><path d="M360,770 Q420,670 510,865"/><path d="M540,865 Q600,760 700,970"/><path d="M730,970 Q800,870 910,1085"/><path d="M940,1085 Q1025,980 1150,1230"/>
</g>
</g>
</svg>
</body></html>
